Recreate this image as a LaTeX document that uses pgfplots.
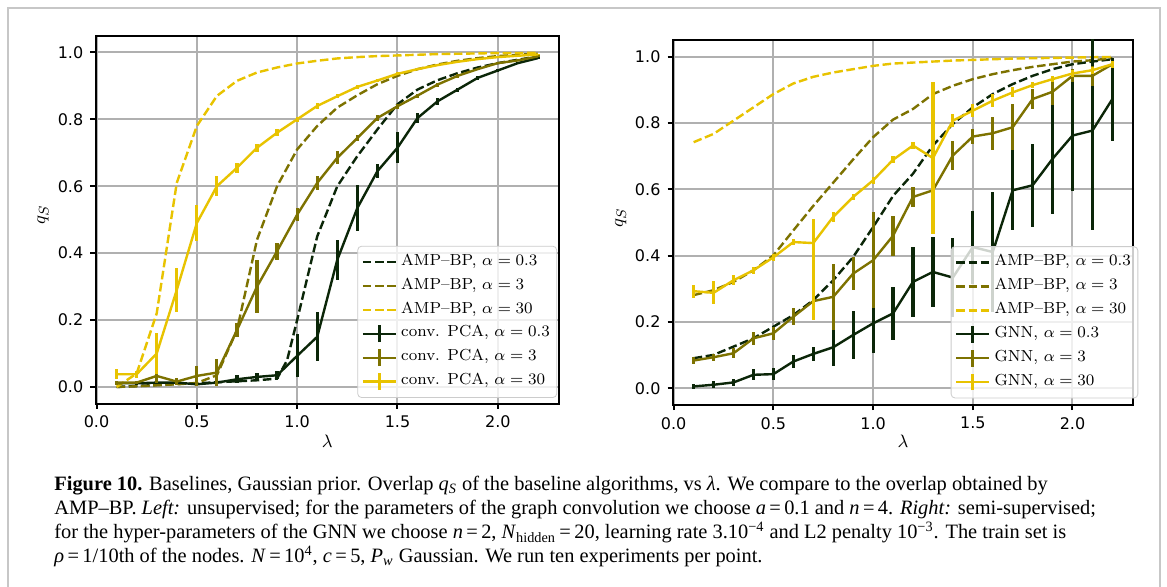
\documentclass[border=0pt]{standalone}
\usepackage{fontspec}
\usepackage{pgfplots}
\pgfplotsset{compat=1.18}
\newfontfamily\tickfont{DejaVu Sans}
\newfontfamily\capfont{Liberation Serif}
\definecolor{cdark}{HTML}{0B2608}
\definecolor{colive}{HTML}{7D7200}
\definecolor{cgold}{HTML}{E8C300}
\definecolor{cgrid}{HTML}{B0B0B0}

\pgfplotsset{
  panel/.style={scale only axis, xmin=-0.005, xmax=2.305, ymin=-0.05, ymax=1.05,
    xtick={0,0.5,1,1.5,2}, ytick={0,0.2,0.4,0.6,0.8,1},
    xtick pos=bottom, ytick pos=left, tick align=outside, major tick length=2.6pt,
    every tick/.style={black, line width=1pt},
    axis line style={line width=1pt},
    grid=major, major grid style={cgrid, line width=1pt},
    tick label style={font=\tickfont\fontsize{8}{9.6}\selectfont,
      /pgf/number format/assume math mode=true, /pgf/number format/fixed,
      /pgf/number format/fixed zerofill, /pgf/number format/precision=1},
    label style={font=\fontsize{9.5}{11}\selectfont},
    xlabel={$\lambda$}, ylabel={$q_S$},
    legend cell align=left,
    legend style={font=\fontsize{8}{9.6}\selectfont, draw=black!20, fill=white,
      fill opacity=0.8, draw opacity=1, text opacity=1, rounded corners=2pt,
      inner xsep=2pt, inner ysep=2pt, row sep=0pt,
      nodes={text height=6.05pt, text depth=2.9pt, inner sep=1.5pt}},
  },
  amp/.style={#1, line width=1.2pt, dash pattern=on 4.3pt off 1.8pt},
  err/.style={#1, line width=1.2pt, error bars/y dir=both, error bars/y explicit,
    error bars/error mark=none, error bars/error bar style={line width=1.6pt, solid},
    legend image code/.code={\draw[#1,line width=1.2pt] (0pt,0pt) -- (16.5pt,0pt);
      \draw[#1,line width=1.6pt] (8.25pt,-4.2pt) -- (8.25pt,4.2pt);}},
}

\begin{document}
\begin{tikzpicture}
\useasboundingbox (0pt,0pt) rectangle (583.5pt,293.5pt);
\fill[white] (0pt,0pt) rectangle (583.5pt,293.5pt);
\draw[black!22, line width=1pt] (4pt,0pt) -- (4pt,289.5pt) -- (580pt,289.5pt) -- (580pt,0pt);

% left: unsupervised
\begin{axis}[panel, at={(47.75pt,91.65pt)}, anchor=south west, width=231.75pt, height=184pt,
  xlabel style={at={(axis description cs:0.5,-0.102)}, anchor=center},
  ylabel style={at={(axis description cs:-0.113,0.513)}, anchor=center},
  legend style={at={(0.996,0.0155)}, anchor=south east}]
\addplot[amp=cdark] coordinates {(0.1,0.000) (0.2,0.003) (0.3,0.006) (0.4,0.009) (0.5,0.011) (0.6,0.014) (0.7,0.017) (0.8,0.020) (0.9,0.025) (0.95,0.08) (1.0,0.20) (1.1,0.45) (1.2,0.60) (1.3,0.69) (1.4,0.77) (1.5,0.845) (1.6,0.889) (1.7,0.917) (1.8,0.938) (1.9,0.955) (2.0,0.968) (2.1,0.978) (2.2,0.988)};
\addlegendentry{AMP--BP, $\alpha=0.3$}
\addplot[amp=colive] coordinates {(0.1,0.000) (0.2,0.002) (0.3,0.005) (0.4,0.008) (0.5,0.012) (0.6,0.035) (0.7,0.17) (0.8,0.44) (0.9,0.60) (1.0,0.71) (1.1,0.78) (1.2,0.835) (1.3,0.872) (1.4,0.905) (1.5,0.93) (1.6,0.95) (1.7,0.964) (1.8,0.975) (1.9,0.983) (2.0,0.989) (2.1,0.993) (2.2,0.996)};
\addlegendentry{AMP--BP, $\alpha=3$}
\addplot[amp=cgold] coordinates {(0.1,0.0) (0.2,0.04) (0.3,0.22) (0.4,0.61) (0.5,0.78) (0.6,0.87) (0.7,0.915) (0.8,0.94) (0.9,0.955) (1.0,0.967) (1.1,0.975) (1.2,0.982) (1.3,0.986) (1.4,0.989) (1.5,0.991) (1.6,0.993) (1.7,0.995) (1.8,0.996) (1.9,0.997) (2.0,0.998) (2.1,0.998) (2.2,0.999)};
\addlegendentry{AMP--BP, $\alpha=30$}
\addplot[err=cdark] coordinates {(0.1,0.011) +- (0,0.005) (0.2,0.011) +- (0,0.005) (0.3,0.013) +- (0,0.005) (0.4,0.013) +- (0,0.005) (0.5,0.008) +- (0,0.005) (0.6,0.013) +- (0,0.006) (0.7,0.023) +- (0,0.012) (0.8,0.030) +- (0,0.012) (0.9,0.035) +- (0,0.012) (1.0,0.093) +- (0,0.064) (1.1,0.150) +- (0,0.073) (1.2,0.380) +- (0,0.06) (1.3,0.535) +- (0,0.07) (1.4,0.645) +- (0,0.02) (1.5,0.715) +- (0,0.047) (1.6,0.804) +- (0,0.015) (1.7,0.854) +- (0,0.01) (1.8,0.889) +- (0,0.006) (1.9,0.924) +- (0,0.005) (2.0,0.946) +- (0,0.005) (2.1,0.968) +- (0,0.004) (2.2,0.983) +- (0,0.003)};
\addlegendentry{conv. PCA, $\alpha=0.3$}
\addplot[err=colive] coordinates {(0.1,0.013) +- (0,0.006) (0.2,0.013) +- (0,0.005) (0.3,0.033) +- (0,0.02) (0.4,0.016) +- (0,0.01) (0.5,0.033) +- (0,0.03) (0.6,0.043) +- (0,0.04) (0.7,0.17) +- (0,0.02) (0.8,0.30) +- (0,0.08) (0.9,0.406) +- (0,0.025) (1.0,0.515) +- (0,0.02) (1.1,0.61) +- (0,0.02) (1.2,0.685) +- (0,0.02) (1.3,0.744) +- (0,0.01) (1.4,0.804) +- (0,0.01) (1.5,0.839) +- (0,0.008) (1.6,0.871) +- (0,0.006) (1.7,0.904) +- (0,0.006) (1.8,0.93) +- (0,0.005) (1.9,0.95) +- (0,0.004) (2.0,0.968) +- (0,0.004) (2.1,0.976) +- (0,0.003) (2.2,0.988) +- (0,0.003)};
\addlegendentry{conv. PCA, $\alpha=3$}
\addplot[err=cgold] coordinates {(0.1,0.038) +- (0,0.015) (0.2,0.038) +- (0,0.01) (0.3,0.10) +- (0,0.062) (0.4,0.29) +- (0,0.065) (0.5,0.49) +- (0,0.055) (0.6,0.60) +- (0,0.03) (0.7,0.655) +- (0,0.015) (0.8,0.715) +- (0,0.012) (0.9,0.76) +- (0,0.01) (1.0,0.80) +- (0,0.008) (1.1,0.84) +- (0,0.008) (1.2,0.869) +- (0,0.006) (1.3,0.897) +- (0,0.005) (1.4,0.916) +- (0,0.005) (1.5,0.936) +- (0,0.004) (1.6,0.95) +- (0,0.004) (1.7,0.962) +- (0,0.003) (1.8,0.972) +- (0,0.003) (1.9,0.98) +- (0,0.002) (2.0,0.986) +- (0,0.002) (2.1,0.99) +- (0,0.002) (2.2,0.994) +- (0,0.002)};
\addlegendentry{conv. PCA, $\alpha=30$}
\end{axis}

% right: semi-supervised
\begin{axis}[panel, at={(336.35pt,91pt)}, anchor=south west, width=230.3pt, height=182.5pt,
  xlabel style={at={(axis description cs:0.5,-0.099)}, anchor=center},
  ylabel style={at={(axis description cs:-0.113,0.513)}, anchor=center},
  legend style={at={(1.0108,0.018)}, anchor=south east}]
\addplot[amp=cdark] coordinates {(0.1,0.091) (0.2,0.101) (0.3,0.126) (0.4,0.151) (0.5,0.186) (0.6,0.221) (0.7,0.266) (0.8,0.326) (0.9,0.396) (1.0,0.486) (1.1,0.58) (1.2,0.647) (1.3,0.732) (1.4,0.797) (1.5,0.847) (1.6,0.887) (1.7,0.917) (1.8,0.942) (1.9,0.962) (2.0,0.977) (2.1,0.985) (2.2,0.992)};
\addlegendentry{AMP--BP, $\alpha=0.3$}
\addplot[amp=colive] coordinates {(0.1,0.281) (0.2,0.296) (0.3,0.321) (0.4,0.356) (0.5,0.401) (0.6,0.476) (0.7,0.55) (0.8,0.62) (0.9,0.69) (1.0,0.757) (1.1,0.81) (1.2,0.842) (1.3,0.887) (1.4,0.912) (1.5,0.932) (1.6,0.947) (1.7,0.959) (1.8,0.969) (1.9,0.977) (2.0,0.985) (2.1,0.989) (2.2,0.995)};
\addlegendentry{AMP--BP, $\alpha=3$}
\addplot[amp=cgold] coordinates {(0.1,0.742) (0.2,0.767) (0.3,0.807) (0.4,0.847) (0.5,0.887) (0.6,0.919) (0.7,0.939) (0.8,0.952) (0.9,0.962) (1.0,0.972) (1.1,0.979) (1.2,0.982) (1.3,0.985) (1.4,0.988) (1.5,0.99) (1.6,0.992) (1.7,0.994) (1.8,0.995) (1.9,0.996) (2.0,0.997) (2.1,0.998) (2.2,0.999)};
\addlegendentry{AMP--BP, $\alpha=30$}
\addplot[err=cdark] coordinates {(0.1,0.006) +- (0,0.008) (0.2,0.011) +- (0,0.01) (0.3,0.018) +- (0,0.01) (0.4,0.041) +- (0,0.017) (0.5,0.043) +- (0,0.017) (0.6,0.081) +- (0,0.02) (0.7,0.104) +- (0,0.022) (0.8,0.124) +- (0,0.055) (0.9,0.161) +- (0,0.072) (1.0,0.196) +- (0,0.09) (1.1,0.226) +- (0,0.08) (1.2,0.321) +- (0,0.105) (1.3,0.351) +- (0,0.105) (1.4,0.334) +- (0,0.12) (1.5,0.426) +- (0,0.11) (1.6,0.411) +- (0,0.18) (1.7,0.597) +- (0,0.12) (1.8,0.612) +- (0,0.125) (1.9,0.692) +- (0,0.165) (2.0,0.762) +- (0,0.167) (2.1,0.777) +- (0,0.30) (2.2,0.872) +- (0,0.125)};
\addlegendentry{GNN, $\alpha=0.3$}
\addplot[err=colive] coordinates {(0.1,0.084) +- (0,0.01) (0.2,0.094) +- (0,0.01) (0.3,0.106) +- (0,0.015) (0.4,0.151) +- (0,0.02) (0.5,0.166) +- (0,0.02) (0.6,0.216) +- (0,0.025) (0.7,0.263) +- (0,0.04) (0.8,0.276) +- (0,0.10) (0.9,0.346) +- (0,0.05) (1.0,0.386) +- (0,0.145) (1.1,0.46) +- (0,0.06) (1.2,0.577) +- (0,0.03) (1.3,0.597) +- (0,0.04) (1.4,0.702) +- (0,0.045) (1.5,0.759) +- (0,0.022) (1.6,0.769) +- (0,0.05) (1.7,0.787) +- (0,0.07) (1.8,0.872) +- (0,0.03) (1.9,0.894) +- (0,0.04) (2.0,0.942) +- (0,0.02) (2.1,0.942) +- (0,0.03) (2.2,0.977) +- (0,0.01)};
\addlegendentry{GNN, $\alpha=3$}
\addplot[err=cgold] coordinates {(0.1,0.293) +- (0,0.02) (0.2,0.288) +- (0,0.035) (0.3,0.326) +- (0,0.015) (0.4,0.356) +- (0,0.01) (0.5,0.395) +- (0,0.01) (0.6,0.441) +- (0,0.01) (0.7,0.438) += (0,0.074) -= (0,0.232) (0.8,0.517) +- (0,0.015) (0.9,0.577) +- (0,0.01) (1.0,0.627) +- (0,0.01) (1.1,0.689) +- (0,0.01) (1.2,0.732) +- (0,0.01) (1.3,0.694) +- (0,0.228) (1.4,0.807) +- (0,0.02) (1.5,0.837) +- (0,0.02) (1.6,0.867) +- (0,0.02) (1.7,0.892) +- (0,0.015) (1.8,0.914) +- (0,0.01) (1.9,0.932) +- (0,0.01) (2.0,0.949) +- (0,0.01) (2.1,0.959) +- (0,0.01) (2.2,0.977) +- (0,0.01)};
\addlegendentry{GNN, $\alpha=30$}
\end{axis}

\begin{scope}[every node/.style={anchor=base west, inner sep=0pt, font=\capfont\fontsize{10.2}{12}\selectfont}]
\node at (27pt,48pt) {\textbf{Figure 10.} Baselines, Gaussian prior. Overlap \textit{q}\textsubscript{\textit{S}} of the baseline algorithms, vs \textit{λ}. We compare to the overlap obtained by};
\node at (27pt,36pt) {AMP–BP. \textit{Left:} unsupervised; for the parameters of the graph convolution we choose \textit{a}\,=\,0.1 and \textit{n}\,=\,4. \textit{Right:} semi-supervised;};
\node at (27pt,24pt) {for the hyper-parameters of the GNN we choose \textit{n}\,=\,2, \textit{N}\textsubscript{hidden}\,=\,20, learning rate 3.10\textsuperscript{−4} and L2 penalty 10\textsuperscript{−3}. The train set is};
\node at (27pt,12pt) {\textit{ρ}\,=\,1/10th of the nodes. \textit{N}\,=\,10\textsuperscript{4}, \textit{c}\,=\,5, \textit{P}\textsubscript{\textit{w}} Gaussian. We run ten experiments per point.};
\end{scope}
\end{tikzpicture}
\end{document}
